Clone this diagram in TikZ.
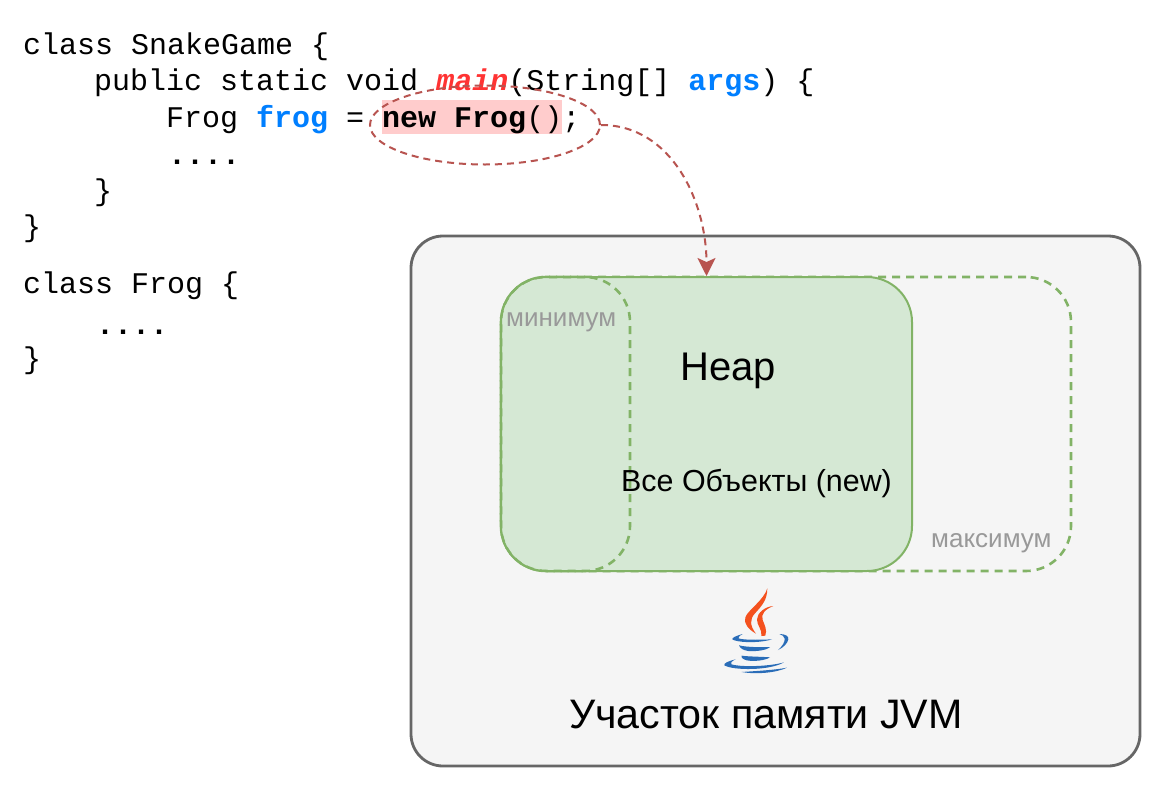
\documentclass[tikz,border=0pt]{standalone}
\usepackage{fontspec}
\setmainfont{Liberation Sans}
\newfontfamily\codefont{Liberation Mono}
\usetikzlibrary{arrows.meta,shapes.geometric}
\definecolor{keyblue}{HTML}{007FFF}
\definecolor{keyred}{HTML}{FF3333}
\definecolor{hlpink}{HTML}{FFCCCC}
\definecolor{edgered}{HTML}{B85450}
\definecolor{heapfill}{HTML}{D5E8D4}
\definecolor{heapline}{HTML}{82B366}
\definecolor{outerfill}{HTML}{F5F5F5}
\definecolor{outerline}{HTML}{666666}
\definecolor{graylabel}{HTML}{999999}
\definecolor{flame}{HTML}{F4511E}
\definecolor{cupblue}{HTML}{2A6DB8}
\newcommand{\kw}[1]{\textcolor{keyblue}{\textbf{#1}}}
\tikzset{
  code/.style={anchor=base west,inner sep=0pt,font=\codefont\fontsize{30}{30}\selectfont},
  zonebox/.style={draw=heapline,line width=2.6pt,rounded corners=45pt,dash pattern=on 8pt off 6pt},
  gray label/.style={anchor=base west,inner sep=0pt,text=graylabel,font=\fontsize{26}{26}\selectfont},
  title/.style={anchor=base west,inner sep=0pt,text=black},
}
\begin{document}
\begin{tikzpicture}[x=1pt,y=-1pt]
\useasboundingbox (0,0) rectangle (1162,788);
\fill[white] (0,0) rectangle (1162,788);
% outer
\node[draw=outerline,fill=outerfill,line width=2.8pt,rounded corners=32pt,minimum width=729pt,minimum height=530pt,inner sep=0pt] (outer) at (775.5,501) {};
\node[zonebox,minimum width=570pt,minimum height=294pt,inner sep=0pt] (maxzone) at (786,424) {};
\node[fill=heapfill,draw=heapline,line width=2pt,rounded corners=45pt,minimum width=411pt,minimum height=294pt,inner sep=0pt] (heap) at (706.5,424) {};
\node[zonebox,minimum width=129pt,minimum height=294pt,inner sep=0pt] (minzone) at (565.5,424) {};
% highlight
\node[fill=hlpink,inner sep=0pt,minimum width=180pt,minimum height=34pt] (hl) at (472,117) {};
% code
\node[code] (l1) at (23,54) {class SnakeGame \{};
\node[code] (l2) at (94,90) {public static void \textcolor{keyred}{\textbf{\textit{main}}}(String[] \kw{args}) \{};
\node[code] (l3) at (166,127) {Frog \kw{frog} = \textbf{new Frog}();};
\node[code] (l4) at (168,164) {\textbf{....}};
\node[code] (l5) at (94,200) {\}};
\node[code] (l6) at (23,236) {\}};
\node[code] (l7) at (23,293) {class Frog \{};
\node[code] (l8) at (96,334) {\textbf{....}};
\node[code] (l9) at (23,368) {\}};
% ellipse + connector
\node[ellipse,draw=edgered,line width=2pt,dash pattern=on 7pt off 5pt,minimum width=230pt,minimum height=79pt,inner sep=0pt] (oval) at (485,125) {};
\draw[edgered,line width=2pt,dash pattern=on 7pt off 5pt,-{Stealth[length=18pt,width=18pt,inset=4pt]}] (oval.east) to[out=0,in=90,looseness=1] (heap.north);
% labels
\node[gray label] (minlbl) at (506,326) {минимум};
\node[gray label] (maxlbl) at (931,547) {максимум};
\node[title,font=\fontsize{40}{40}\selectfont] (heaplbl) at (680,380) {Heap};
\node[title,font=\fontsize{30.4}{30}\selectfont] (objlbl) at (621,491) {Все Объекты (new)};
\node[title,font=\fontsize{41.2}{41}\selectfont] (jvmlbl) at (569,728) {Участок памяти JVM};
% java logo
\begin{scope}[shift={(690,570)},x=0.3333pt,y=-0.3333pt]
\fill[flame] (232,55) .. controls (232,90) and (215,108) .. (195,130) .. controls (178,148) and (180,168) .. (198,191) .. controls (175,178) and (160,160) .. (166,142) .. controls (172,122) and (222,90) .. (232,55) -- cycle;
\fill[flame] (250,108) .. controls (225,118) and (212,132) .. (218,150) .. controls (224,165) and (232,180) .. (226,197) -- (214,198) .. controls (218,180) and (200,165) .. (201,148) .. controls (202,128) and (225,110) .. (250,108) -- cycle;
\fill[cupblue] (158,192) .. controls (140,197) and (125,203) .. (127,208) .. controls (135,216) and (200,222) .. (246,208) .. controls (200,210) and (160,210) .. (145,205) .. controls (145,200) and (150,196) .. (158,192) -- cycle;
\fill[cupblue] (268,192) .. controls (285,192) and (297,198) .. (295,208) .. controls (293,220) and (280,233) .. (264,240) .. controls (278,228) and (285,215) .. (284,206) .. controls (283,198) and (276,195) .. (268,192) -- cycle;
\fill[cupblue] (147,226) .. controls (170,232) and (215,232) .. (240,231) .. controls (232,240) and (200,245) .. (175,243) .. controls (160,241) and (150,235) .. (147,226) -- cycle;
\fill[cupblue] (155,257) .. controls (175,260) and (215,260) .. (240,262) .. controls (225,272) and (190,275) .. (170,271) .. controls (160,268) and (152,263) .. (155,257) -- cycle;
\fill[cupblue] (137,268) .. controls (115,273) and (100,280) .. (103,286) .. controls (130,302) and (240,302) .. (282,277) .. controls (245,288) and (160,293) .. (124,283) .. controls (120,280) and (125,273) .. (137,268) -- cycle;
\fill[cupblue] (155,306) .. controls (200,303) and (255,300) .. (291,293) .. controls (260,308) and (200,314) .. (155,306) -- cycle;
\end{scope}
\end{tikzpicture}
\end{document}
